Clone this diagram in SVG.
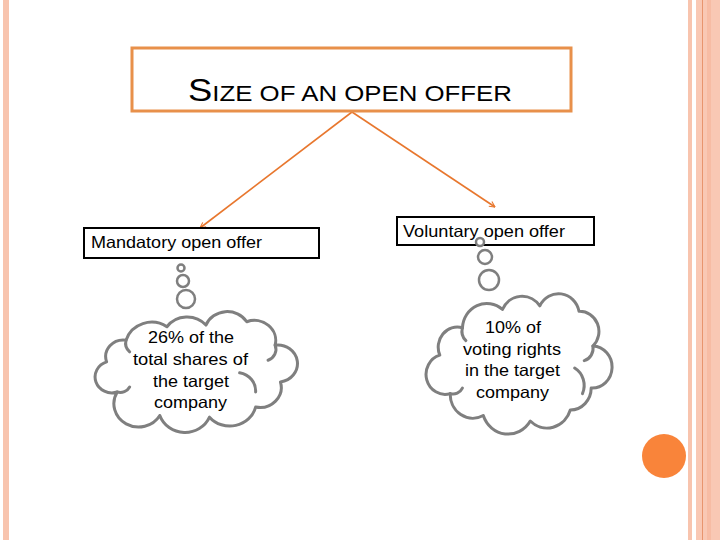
<svg xmlns="http://www.w3.org/2000/svg" width="720" height="540" viewBox="0 0 720 540">
<style>
  .lbl{font-family:"Liberation Sans",Arial,sans-serif;fill:#000}
  .box{fill:#fff;stroke:#000;stroke-width:2}
  .cloud{fill:#fff;stroke:#7f7f7f;stroke-width:3;stroke-linejoin:round}
  .curl{fill:none;stroke:#7f7f7f;stroke-width:3;stroke-linecap:round}
  .bub{fill:#fff;stroke:#7f7f7f;stroke-width:2.5}
  .conn{stroke:#e8772e;stroke-width:1.6;fill:none}
</style>
<defs>
  <marker id="arr" viewBox="0 0 10 10" refX="9" refY="5" markerWidth="7" markerHeight="7" orient="auto" markerUnits="userSpaceOnUse">
    <path d="M1 1 L9 5 L1 9" fill="none" stroke="#e8772e" stroke-width="1.6"/>
  </marker>
</defs>
<rect width="720" height="540" fill="#fff"/>
<g id="decor">
  <rect x="3" y="0" width="6" height="540" fill="#f8c4ae"/>
  <rect x="688" y="0" width="4" height="540" fill="#f8c4ae"/>
  <rect x="696" y="0" width="24" height="540" fill="#f9c8b4"/>
  <line x1="702.5" y1="0" x2="702.5" y2="540" stroke="#e8956e" stroke-width="1"/>
  <rect x="707" y="0" width="4" height="540" fill="#f7bca4"/>
  <circle cx="664" cy="456" r="22" fill="#f9843a"/>
</g>
<g id="connectors">
  <line class="conn" x1="352" y1="112" x2="200" y2="228" marker-end="url(#arr)"/>
  <line class="conn" x1="352" y1="112" x2="495" y2="207" marker-end="url(#arr)"/>
</g>
<g id="title">
  <rect x="132" y="48" width="439" height="63" fill="#fff" stroke="#e8904a" stroke-width="3"/>
  <text class="lbl" x="188" y="101" textLength="324" lengthAdjust="spacingAndGlyphs"><tspan font-size="31">S</tspan><tspan font-size="22">IZE OF AN OPEN OFFER</tspan></text>
</g>
<g id="mandatory">
  <rect class="box" x="84" y="228" width="235" height="30"/>
  <text class="lbl" x="91" y="248" font-size="16.5" textLength="171" lengthAdjust="spacingAndGlyphs">Mandatory open offer</text>
</g>
<g id="voluntary">
  <rect class="box" x="397" y="217" width="197" height="28"/>
  <text class="lbl" x="403" y="237" font-size="16.5" textLength="162" lengthAdjust="spacingAndGlyphs">Voluntary open offer</text>
</g>
<g id="cloud-mandatory">
  <circle class="bub" cx="181" cy="268" r="3.5"/>
  <circle class="bub" cx="183" cy="281" r="6"/>
  <circle class="bub" cx="186" cy="299" r="9"/>
  <g transform="matrix(0.887 0 0 0.837 17.9 58.9)">
    <path class="cloud" vector-effect="non-scaling-stroke" d="M112 398 A18 18 0 0 1 100 362 A20 20 0 0 1 122 336 A30 30 0 0 1 168 320 A28 28 0 0 1 212 318 A26 26 0 0 1 258 314 A24 24 0 0 1 290 342 A22 22 0 0 1 296 386 A24 24 0 0 1 268 416 A30 30 0 0 1 216 428 A30 30 0 0 1 160 426 A26 26 0 0 1 112 398 Z"/>
    <path class="curl" vector-effect="non-scaling-stroke" d="M250 375 A22 22 0 0 1 268 398"/>
    <path class="curl" vector-effect="non-scaling-stroke" d="M112 398 A12 12 0 0 0 126 392"/>
    <path class="curl" vector-effect="non-scaling-stroke" d="M122 336 A14 14 0 0 0 126 350"/>
    <path class="curl" vector-effect="non-scaling-stroke" d="M290 342 A14 14 0 0 1 282 360"/>
  </g>
  <g class="lbl" font-size="16.5">
    <text x="148" y="343" textLength="86" lengthAdjust="spacingAndGlyphs">26% of the</text>
    <text x="133" y="365" textLength="115" lengthAdjust="spacingAndGlyphs">total shares of</text>
    <text x="153" y="387" textLength="76" lengthAdjust="spacingAndGlyphs">the target</text>
    <text x="154" y="408" textLength="73" lengthAdjust="spacingAndGlyphs">company</text>
  </g>
</g>
<g id="cloud-voluntary">
  <circle class="bub" cx="480" cy="242" r="4"/>
  <circle class="bub" cx="485" cy="257" r="7"/>
  <circle class="bub" cx="489" cy="280" r="10"/>
  <g transform="matrix(0.870 0 0 0.914 65.7 29.8)">
    <path class="cloud" vector-effect="non-scaling-stroke" d="M442 398 A18 18 0 0 1 430 356 A22 22 0 0 1 456 326 A28 28 0 0 1 502 306 A25 25 0 0 1 545 302 A24 24 0 0 1 590 308 A22 22 0 0 1 606 346 A22 22 0 0 1 604 392 A24 24 0 0 1 580 416 A28 28 0 0 1 534 428 A30 30 0 0 1 480 422 A26 26 0 0 1 442 398 Z"/>
    <path class="curl" vector-effect="non-scaling-stroke" d="M585 370 A22 22 0 0 1 594 398"/>
    <path class="curl" vector-effect="non-scaling-stroke" d="M442 398 A12 12 0 0 0 456 392"/>
    <path class="curl" vector-effect="non-scaling-stroke" d="M456 326 A14 14 0 0 0 460 340"/>
    <path class="curl" vector-effect="non-scaling-stroke" d="M606 346 A14 14 0 0 1 596 362"/>
  </g>
  <g class="lbl" font-size="16.5">
    <text x="485" y="333" textLength="56" lengthAdjust="spacingAndGlyphs">10% of</text>
    <text x="463" y="355" textLength="98" lengthAdjust="spacingAndGlyphs">voting rights</text>
    <text x="465" y="376" textLength="95" lengthAdjust="spacingAndGlyphs">in the target</text>
    <text x="476" y="398" textLength="73" lengthAdjust="spacingAndGlyphs">company</text>
  </g>
</g>
</svg>
